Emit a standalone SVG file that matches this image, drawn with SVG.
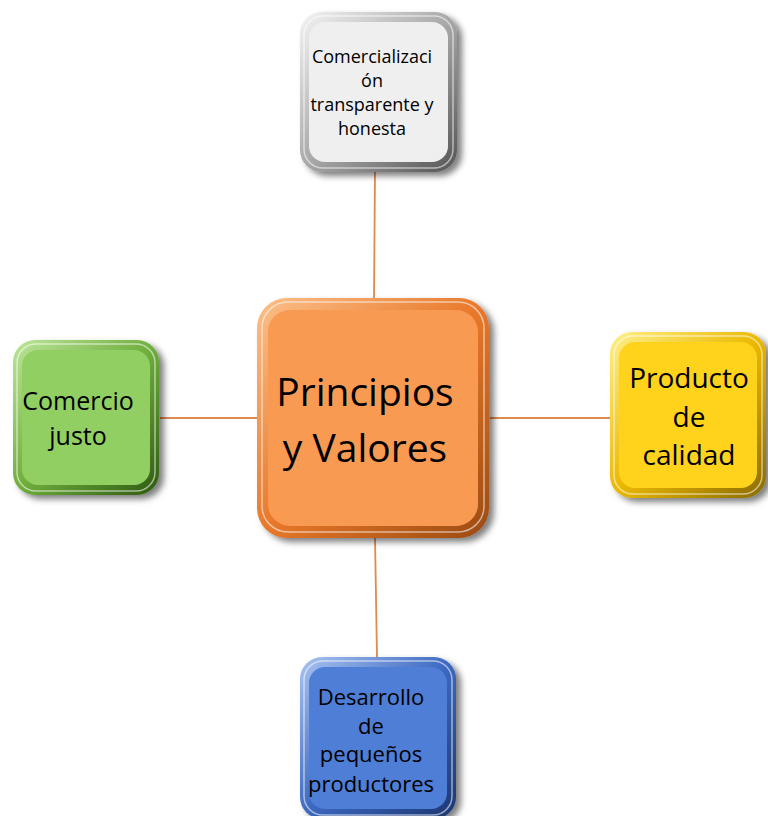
<svg xmlns="http://www.w3.org/2000/svg" width="768" height="816" viewBox="0 0 768 816">
<defs>
<filter id="sh" x="-20%" y="-20%" width="140%" height="140%">
<feDropShadow dx="5" dy="4" stdDeviation="3" flood-color="#000" flood-opacity="0.5"/>
</filter>
<linearGradient id="gO" x1="0" y1="0" x2="1" y2="1"><stop offset="0" stop-color="#FCC08A"/><stop offset="0.5" stop-color="#E8782A"/><stop offset="1" stop-color="#9A4A10"/></linearGradient>
<linearGradient id="gG" x1="0" y1="0" x2="1" y2="1"><stop offset="0" stop-color="#F4F4F4"/><stop offset="0.5" stop-color="#A8A8A8"/><stop offset="1" stop-color="#555"/></linearGradient>
<linearGradient id="gGr" x1="0" y1="0" x2="1" y2="1"><stop offset="0" stop-color="#BDE69A"/><stop offset="0.5" stop-color="#6FAE3C"/><stop offset="1" stop-color="#2E5A12"/></linearGradient>
<linearGradient id="gY" x1="0" y1="0" x2="1" y2="1"><stop offset="0" stop-color="#FFF08A"/><stop offset="0.5" stop-color="#EBB800"/><stop offset="1" stop-color="#8A6A00"/></linearGradient>
<linearGradient id="gB" x1="0" y1="0" x2="1" y2="1"><stop offset="0" stop-color="#A9C4F2"/><stop offset="0.5" stop-color="#3C68C0"/><stop offset="1" stop-color="#1C3670"/></linearGradient>
</defs>
<style>
.t{font-family:"Open Sans","Liberation Sans",sans-serif;fill:#000;text-anchor:middle}
.c{stroke:#E08A4E;stroke-width:1.8;fill:none}
.hl{fill:none;stroke:#fff;stroke-opacity:0.55;stroke-width:1.5}
</style>
<g id="connectors">
<line class="c" x1="375" y1="172" x2="374" y2="300"/>
<line class="c" x1="375" y1="538" x2="377" y2="658"/>
<line class="c" x1="160" y1="418" x2="258" y2="418"/>
<line class="c" x1="490" y1="418" x2="610" y2="418"/>
</g>
<g id="n-center">
<rect x="257" y="298" width="232" height="240" rx="30" fill="url(#gO)" filter="url(#sh)"/>
<rect x="268" y="310" width="210" height="216" rx="22" fill="#F99A52"/>
<rect x="262" y="302" width="222" height="230" rx="26" class="hl"/>
<text class="t" font-size="39"><tspan x="365" y="406">Principios</tspan><tspan x="365" y="462">y Valores</tspan></text>
</g>
<g id="n-top">
<rect x="300" y="12" width="157" height="160" rx="22" fill="url(#gG)" filter="url(#sh)"/>
<rect x="309" y="22" width="139" height="140" rx="16" fill="#EFEFEF"/>
<rect x="304" y="16" width="149" height="152" rx="19" class="hl"/>
<text class="t" font-size="18"><tspan x="372" y="63">Comercializaci</tspan><tspan x="372" y="87">ón</tspan><tspan x="372" y="111">transparente y</tspan><tspan x="372" y="135">honesta</tspan></text>
</g>
<g id="n-left">
<rect x="13" y="340" width="146" height="155" rx="22" fill="url(#gGr)" filter="url(#sh)"/>
<rect x="22" y="350" width="128" height="135" rx="16" fill="#92CF62"/>
<rect x="17" y="344" width="138" height="147" rx="19" class="hl"/>
<text class="t" font-size="25"><tspan x="78" y="410">Comercio</tspan><tspan x="78" y="445">justo</tspan></text>
</g>
<g id="n-right">
<rect x="610" y="332" width="156" height="166" rx="22" fill="url(#gY)" filter="url(#sh)"/>
<rect x="619" y="342" width="138" height="146" rx="16" fill="#FFD21C"/>
<rect x="614" y="336" width="148" height="158" rx="19" class="hl"/>
<text class="t" font-size="28"><tspan x="689" y="388">Producto</tspan><tspan x="689" y="427">de</tspan><tspan x="689" y="465">calidad</tspan></text>
</g>
<g id="n-bottom">
<rect x="300" y="657" width="156" height="162" rx="22" fill="url(#gB)" filter="url(#sh)"/>
<rect x="309" y="667" width="138" height="142" rx="16" fill="#4E7ED6"/>
<rect x="304" y="661" width="148" height="154" rx="19" class="hl"/>
<text class="t" font-size="22"><tspan x="371" y="705">Desarrollo</tspan><tspan x="371" y="734">de</tspan><tspan x="371" y="762">pequeños</tspan><tspan x="371" y="792">productores</tspan></text>
</g>
</svg>
